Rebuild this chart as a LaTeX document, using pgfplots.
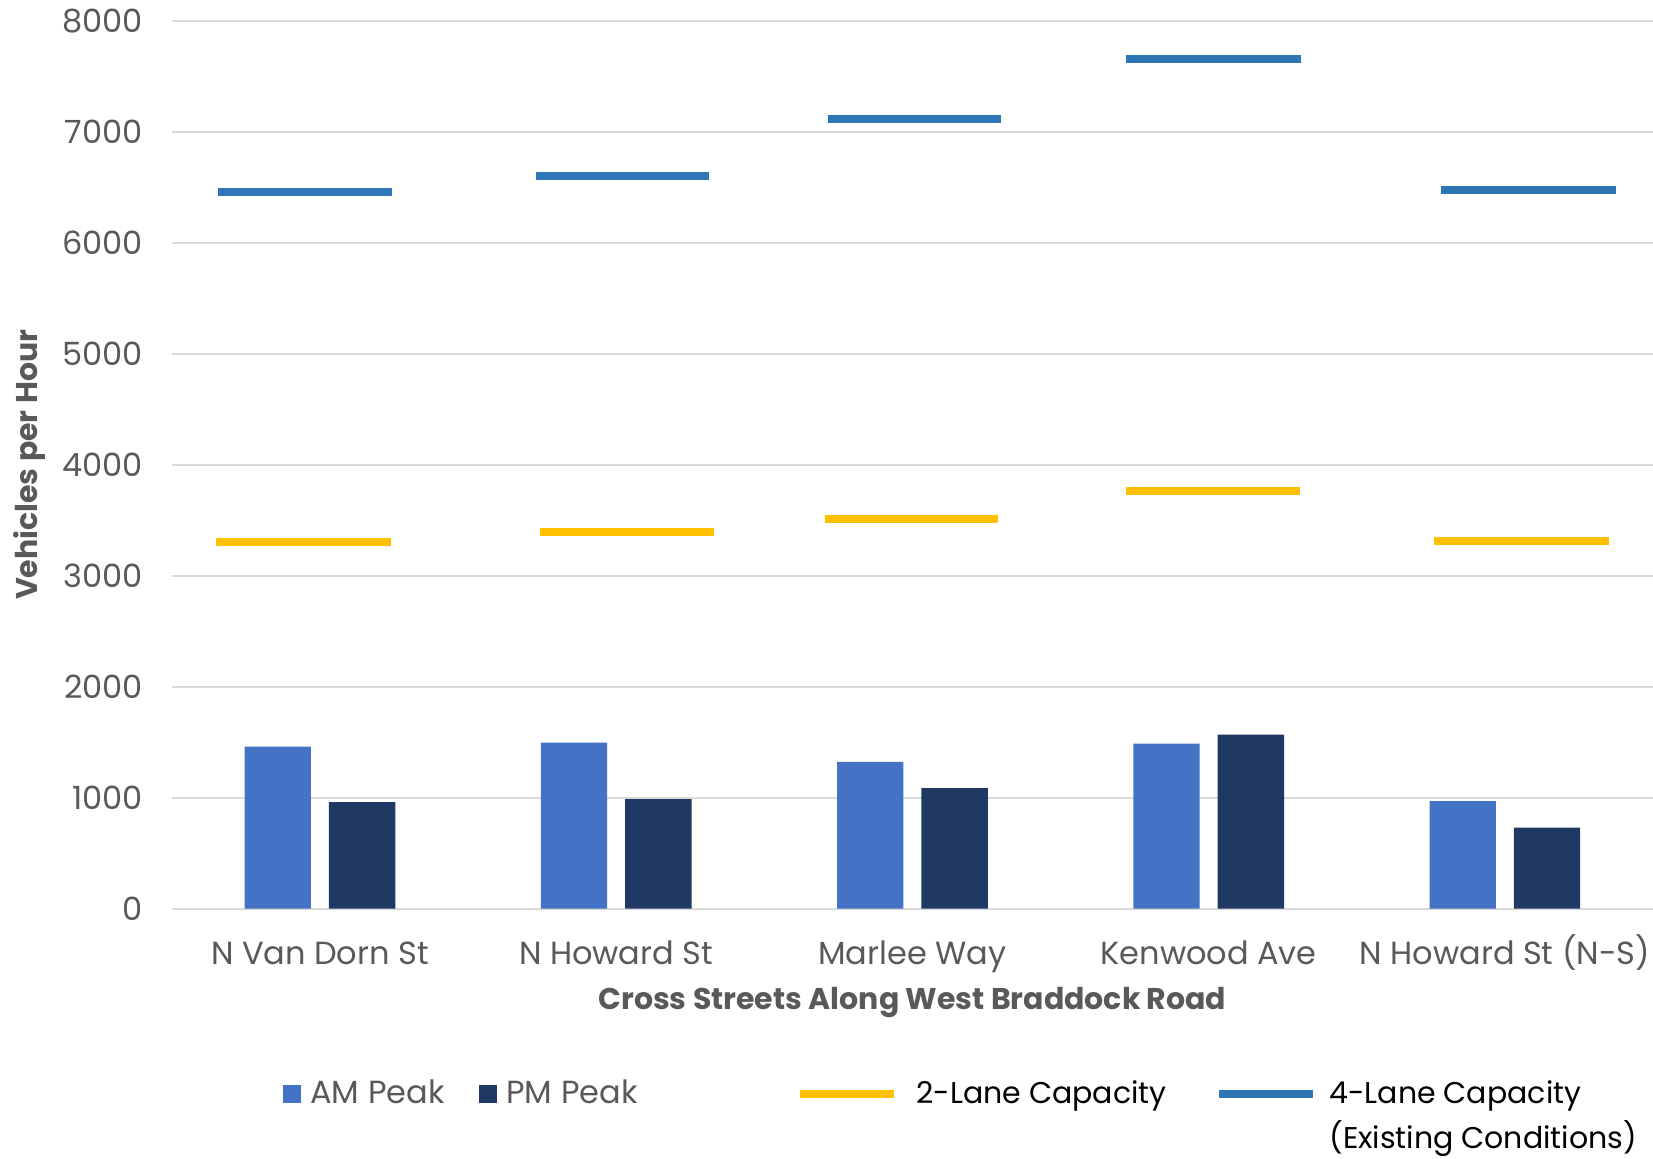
\documentclass[border=0pt]{standalone}
\usepackage{fontspec}
\setmainfont{Poppins}
\usepackage{pgfplots}
\pgfplotsset{compat=1.18}
\definecolor{amc}{HTML}{4472C4}
\definecolor{pmc}{HTML}{203864}
\definecolor{yel}{HTML}{FFC000}
\definecolor{blu}{HTML}{2E75B6}
\definecolor{txt}{HTML}{595959}
\definecolor{grd}{HTML}{D9D9D9}
\begin{document}
\begin{tikzpicture}
\path[use as bounding box] (-85.9pt,-124.65pt) rectangle (740.6pt,454.35pt);
\begin{axis}[
  at={(0pt,0pt)}, anchor=south west,
  width=740.6pt, height=443.85pt, scale only axis,
  xmin=-0.5, xmax=4.5, ymin=0, ymax=8000,
  xtick={0,1,2,3,4},
  xticklabels={N Van Dorn St, N Howard St, Marlee Way, Kenwood Ave, N Howard St (N-S)},
  ytick={0,1000,2000,3000,4000,5000,6000,7000,8000},
  ymajorgrids, grid style={grd, line width=1pt},
  axis line style={draw=none},
  major tick length=0pt,
  tick label style={font=\fontsize{16}{19}\selectfont, text=txt},
  /pgf/number format/assume math mode=true,
  /pgf/number format/1000 sep={},
  xticklabel style={anchor=base, yshift=-27.9pt},
  yticklabel style={xshift=-11pt},
  xlabel={Cross Streets Along West Braddock Road},
  ylabel={Vehicles per Hour},
  label style={font=\bfseries\fontsize{15}{18}\selectfont, text=txt},
  xlabel style={at={(axis description cs:0.5,-0.1055)}, anchor=center},
  ylabel style={at={(axis description cs:-0.0959,0.5)}, anchor=center},
  legend columns=4,
  legend style={draw=none, fill=none, inner sep=0pt, column sep=0pt,
    at={(axis description cs:0.0748,-0.1908)}, anchor=north west,
    font=\fontsize{16}{19}\selectfont, text=txt,
    cells={anchor=base west},
    nodes={inner sep=0pt}},
]
\addlegendimage{legend image code/.code={\path[draw=none,fill=none] (0pt,0pt) rectangle (13.7pt,1pt); \fill[amc,draw=none] (0pt,0.5pt) rectangle (9pt,9.5pt);}}
\addlegendentry{\makebox[84.3pt][l]{AM Peak}}
\addlegendimage{legend image code/.code={\path[draw=none,fill=none] (0pt,0pt) rectangle (13.7pt,1pt); \fill[pmc,draw=none] (0pt,0.5pt) rectangle (9pt,9.5pt);}}
\addlegendentry{\makebox[145pt][l]{PM Peak}}
\addlegendimage{legend image code/.code={\path[draw=none,fill=none] (0pt,0pt) rectangle (58pt,1pt); \draw[yel, line width=4pt] (0pt,5pt) -- (47pt,5pt);}}
\addlegendentry{\makebox[149.2pt][l]{\color{black}\fontsize{15}{18}\selectfont 2-Lane Capacity}}
\addlegendimage{legend image code/.code={\path[draw=none,fill=none] (0pt,0pt) rectangle (55.3pt,1pt); \draw[blu, line width=4pt] (0pt,5pt) -- (47pt,5pt);}}
\addlegendentry{\color{black}\fontsize{15}{18}\selectfont\begin{tabular}[t]{@{}l@{}}4-Lane Capacity\\[3pt](Existing Conditions)\end{tabular}}

\addplot[ybar, bar width=33.2pt, bar shift=-21.08pt, fill=amc, draw=none, forget plot]
  coordinates {(0,1461) (1,1497) (2,1323) (3,1488) (4,970)};
\addplot[ybar, bar width=33.2pt, bar shift=21.08pt, fill=pmc, draw=none, forget plot]
  coordinates {(0,961) (1,988) (2,1087) (3,1569) (4,731)};

\addplot[yel, line width=4pt, unbounded coords=jump, forget plot] coordinates {
  (-0.3505,3305) (0.2402,3305) (0.5,nan)
  (0.7420,3399) (1.3292,3399) (1.5,nan)
  (1.7064,3514) (2.2900,3514) (2.5,nan)
  (2.7206,3768) (3.3078,3768) (3.5,nan)
  (3.7598,3315) (4.3505,3315)};
\addplot[blu, line width=4pt, unbounded coords=jump, forget plot] coordinates {
  (-0.3434,6457) (0.2438,6457) (0.5,nan)
  (0.7278,6605) (1.3149,6605) (1.5,nan)
  (1.7135,7119) (2.3007,7119) (2.5,nan)
  (2.7206,7662) (3.3114,7662) (3.5,nan)
  (3.7847,6473) (4.3754,6473)};
\end{axis}
\end{tikzpicture}
\end{document}
